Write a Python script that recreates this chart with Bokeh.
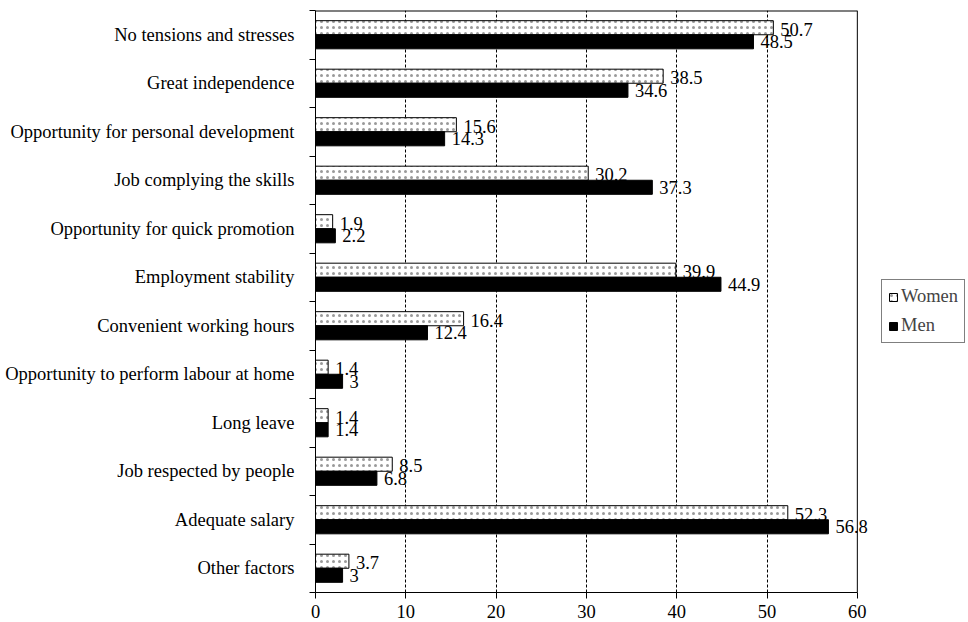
from bokeh.plotting import figure
from bokeh.models import ColumnDataSource, Range1d, FixedTicker, Legend, LegendItem, LinearAxis, Span
from bokeh.transform import dodge
from bokeh.core.properties import value
from bokeh.embed import file_html
from bokeh.resources import INLINE

categories = ["No tensions and stresses", "Great independence",
              "Opportunity for personal development", "Job complying the skills",
              "Opportunity for quick promotion", "Employment stability",
              "Convenient working hours", "Opportunity to perform labour at home",
              "Long leave", "Job respected by people", "Adequate salary", "Other factors"]
women = [50.7, 38.5, 15.6, 30.2, 1.9, 39.9, 16.4, 1.4, 1.4, 8.5, 52.3, 3.7]
men = [48.5, 34.6, 14.3, 37.3, 2.2, 44.9, 12.4, 3, 1.4, 6.8, 56.8, 3]
women_labels = ["50.7", "38.5", "15.6", "30.2", "1.9", "39.9", "16.4", "1.4", "1.4", "8.5", "52.3", "3.7"]
men_labels = ["48.5", "34.6", "14.3", "37.3", "2.2", "44.9", "12.4", "3", "1.4", "6.8", "56.8", "3"]
x_ticks = [0, 10, 20, 30, 40, 50, 60]

n = len(categories)
pos = [n - i - 0.5 for i in range(n)]
src = ColumnDataSource(dict(cat=categories, pos=pos, women=women, men=men,
                            wl=women_labels, ml=men_labels))

FONT = "Liberation Serif"
FS = "18.5px"
x_max = x_ticks[-1]

# frame extends past the 60 border so labels and the legend are not clipped
p = figure(width=968, height=622, output_backend="svg", toolbar_location=None,
           x_range=Range1d(0, 72.2), y_range=Range1d(0, n),
           min_border_left=315, min_border_right=1, min_border_top=10, min_border_bottom=30,
           x_axis_location=None, y_axis_location=None)
p.background_fill_color = "white"
p.border_fill_color = "white"
p.outline_line_color = None

p.xgrid.ticker = FixedTicker(ticks=x_ticks[1:-1])
p.xgrid.grid_line_color = "black"
p.xgrid.grid_line_dash = "3 2"
p.xgrid.grid_line_width = 1
p.ygrid.visible = False

bh = 0.29
rw = p.hbar(y=dodge("pos", bh / 2), left=0, right="women", height=bh, source=src,
            fill_color="white", line_color="black", line_width=1,
            hatch_pattern="dot", hatch_color="#9a9a9a", hatch_scale=6, hatch_weight=0.3)
rm = p.hbar(y=dodge("pos", -bh / 2), left=0, right="men", height=bh, source=src,
            fill_color="black", line_color="black", line_width=1)

p.text(x="women", y=dodge("pos", bh / 2 - 0.03), text="wl", source=src, x_offset=7,
       text_font=value(FONT), text_font_size=FS, text_baseline="middle", text_color="black")
p.text(x="men", y=dodge("pos", -bh / 2), text="ml", source=src, x_offset=7,
       text_font=value(FONT), text_font_size=FS, text_baseline="middle", text_color="black")

# plot-area border at right (x=60) and top
p.add_layout(Span(location=x_max, dimension="height", line_color="black", line_width=1, level="overlay"))
p.segment(x0=[0], x1=[x_max], y0=[n], y1=[n], line_color="black", line_width=2)

# x axis
xa = LinearAxis(ticker=FixedTicker(ticks=x_ticks), bounds=(0, x_max))
xa.major_tick_out = 6
xa.major_tick_in = 0
xa.minor_tick_out = 0
xa.minor_tick_in = 0
xa.major_label_standoff = 6
xa.major_label_text_font = FONT
xa.major_label_text_font_size = FS
xa.major_label_text_color = "black"
xa.axis_line_color = "black"
xa.major_tick_line_color = "black"
p.add_layout(xa, "below")

# y axis: labels at category centres, tick marks at boundaries
ya = LinearAxis(ticker=FixedTicker(ticks=pos, minor_ticks=list(range(n + 1))))
ya.major_label_overrides = {pv: c for pv, c in zip(pos, categories)}
ya.major_tick_out = 0
ya.major_tick_in = 0
ya.minor_tick_out = 6
ya.minor_tick_in = 0
ya.minor_tick_line_color = "black"
ya.major_label_standoff = 15
ya.major_label_text_font = FONT
ya.major_label_text_font_size = FS
ya.major_label_text_color = "black"
ya.axis_line_color = "black"
p.add_layout(ya, "left")

legend = Legend(items=[LegendItem(label="Women", renderers=[rw]),
                       LegendItem(label="Men", renderers=[rm])],
                location=(566, 249))
legend.label_text_font = FONT
legend.label_text_font_size = FS
legend.label_height = 20
legend.glyph_width = 10
legend.glyph_height = 10
legend.label_standoff = 3
legend.spacing = 8
legend.padding = 6
legend.margin = 0
legend.border_line_color = "black"
legend.border_line_width = 1
legend.background_fill_color = "white"
legend.background_fill_alpha = 1
p.add_layout(legend, "center")

open("out.html", "w").write(file_html(p, INLINE))
